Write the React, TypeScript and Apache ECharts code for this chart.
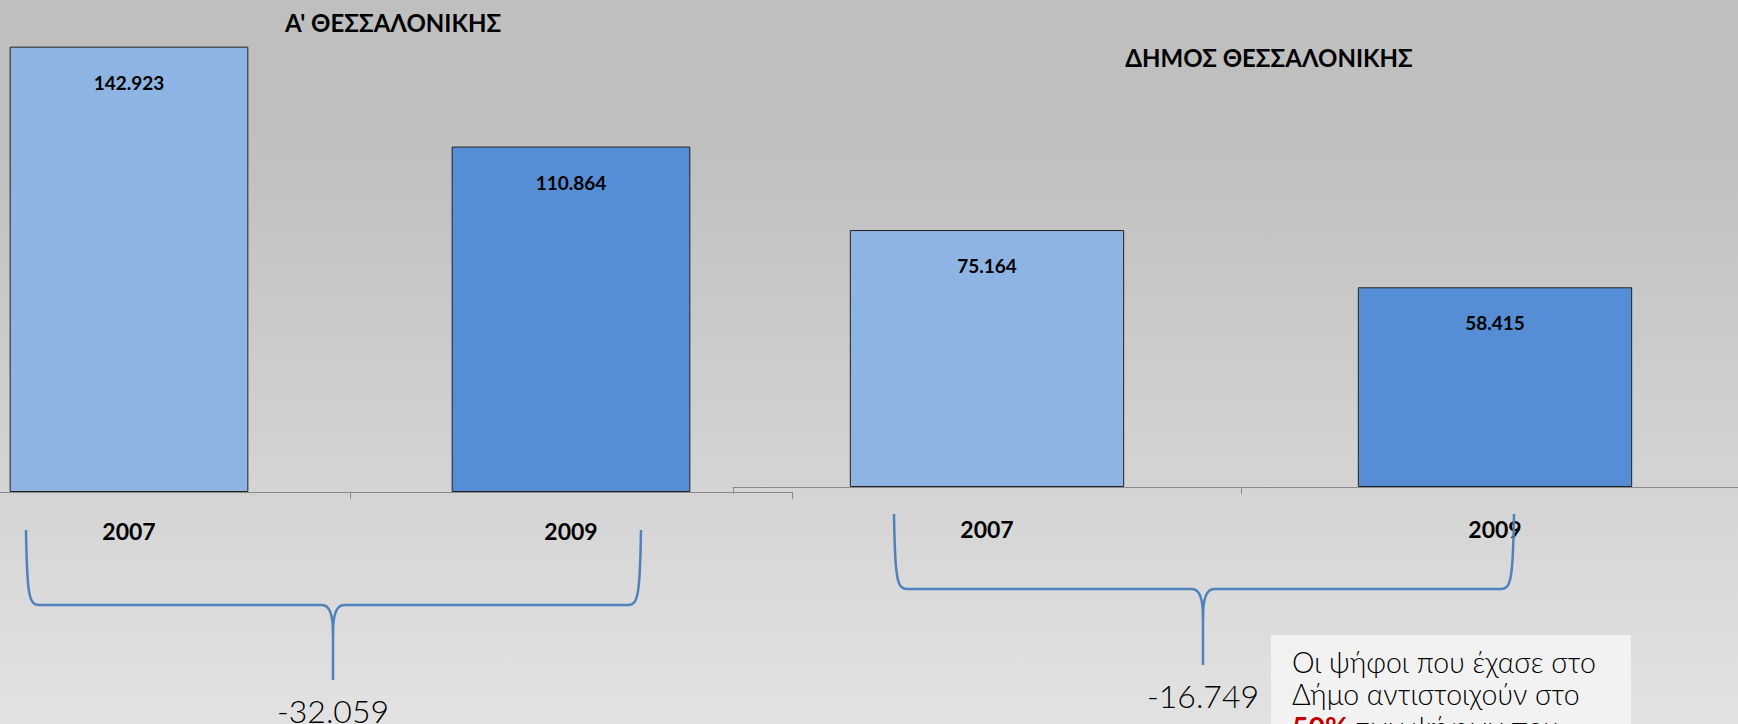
import React, { useEffect, useRef } from "react";
import * as echarts from "echarts";

const categories = ["2007", "2009"];
const thessA = [142923, 110864];
const dimos = [75164, 58415];
const titles = ["Α' ΘΕΣΣΑΛΟΝΙΚΗΣ", "ΔΗΜΟΣ ΘΕΣΣΑΛΟΝΙΚΗΣ"];
const barColors = ["#8eb4e3", "#558ed5"];
const noteLines = ["Οι ψήφοι που έχασε στο", "Δήμο αντιστοιχούν στο"];
const notePct = "50%";
const noteRest = " των ψήφων που";

const fmt = (n: number) => {
  const s = String(Math.abs(n)).replace(/\B(?=(\d{3})+(?!\d))/g, ".");
  return (n < 0 ? "-" : "") + s;
};

const FONT = "Lato, 'DejaVu Sans', sans-serif";
const BRACE = { stroke: "#4f81bd", lineWidth: 2.5, fill: null as any };
// the chart canvas starts OX px left of the page so the left chart's plot can extend past the edge
const OX = 92;
const CW = 1738 + OX + 11;

function brace(x0: number, x1: number, xc: number, top: number, hy: number, tip: number) {
  x0 += OX; x1 += OX; xc += OX;
  const els: any[] = [];
  const bz = (a: number[]) => ({
    type: "bezierCurve",
    shape: { x1: a[0], y1: a[1], cpx1: a[2], cpy1: a[3], cpx2: a[4], cpy2: a[5], x2: a[6], y2: a[7] },
    style: BRACE,
    z: 10,
  });
  const ln = (a: number[]) => ({
    type: "line",
    shape: { x1: a[0], y1: a[1], x2: a[2], y2: a[3] },
    style: BRACE,
    z: 10,
  });
  els.push(bz([x0, top, x0 + 1, hy - 10, x0 + 3, hy, x0 + 13, hy]));
  els.push(ln([x0 + 13, hy, xc - 11, hy]));
  els.push(bz([xc - 11, hy, xc - 3, hy, xc, hy + 10, xc, hy + 28]));
  els.push(ln([xc, hy + 28, xc, tip]));
  els.push(bz([xc + 11, hy, xc + 3, hy, xc, hy + 10, xc, hy + 28]));
  els.push(ln([xc + 11, hy, x1 - 13, hy]));
  els.push(bz([x1, top, x1 - 1, hy - 10, x1 - 3, hy, x1 - 13, hy]));
  return els;
}

export default function App() {
  const ref = useRef<HTMLDivElement>(null);
  useEffect(() => {
    if (!ref.current) return;
    const chart = echarts.init(ref.current, null, { renderer: "svg" });
    const axisCommon = (gi: number, margin: number) => ({
      gridIndex: gi,
      type: "category",
      data: categories,
      axisLine: { lineStyle: { color: "#8a8a8a", width: 1 } },
      axisTick: { show: true, length: 7, lineStyle: { color: "#8a8a8a" } },
      axisLabel: {
        margin,
        fontFamily: FONT,
        fontWeight: "bold",
        fontSize: 23,
        lineHeight: 23,
        color: "#000",
      },
    });
    const barSeries = (idx: number, vals: number[]) => ({
      type: "bar",
      xAxisIndex: idx,
      yAxisIndex: idx,
      barWidth: "54%",
      data: vals.map((v, i) => ({ value: v, itemStyle: { color: barColors[i] } })),
      itemStyle: { borderColor: "#222", borderWidth: 1 },
      label: {
        show: true,
        position: "insideTop",
        distance: 26,
        formatter: (p: any) => fmt(p.value),
        fontFamily: FONT,
        fontWeight: "bold",
        fontSize: 19,
        lineHeight: 19,
        color: "#000",
      },
    });
    const d1 = thessA[1] - thessA[0];
    const d2 = dimos[1] - dimos[0];
    const txt = (x: number, y: number, text: string, size: number, weight: any, extra: any = {}) => ({
      type: "text",
      x: x + OX,
      y,
      z: 6,
      style: { text, fontFamily: FONT, fontWeight: weight, fontSize: size, fill: "#000", align: "center", verticalAlign: "middle", ...extra },
    });
    const option: any = {
      animation: false,
      backgroundColor: {
        type: "linear",
        x: 0,
        y: 0,
        x2: 0,
        y2: 1,
        colorStops: [
          { offset: 0, color: "#bfbfbf" },
          { offset: 0.22, color: "#c0c0c0" },
          { offset: 1, color: "#e2e2e2" },
        ],
      },
      grid: [
        { left: 0, top: 24.6, width: 884, height: 467.4 },
        { left: 733 + OX, top: 213.5, width: 1016, height: 273.5 },
      ],
      xAxis: [axisCommon(0, 27), axisCommon(1, 30)],
      yAxis: [
        { gridIndex: 0, type: "value", min: 0, max: 150000, show: false },
        { gridIndex: 1, type: "value", min: 0, max: 80000, show: false },
      ],
      series: [barSeries(0, thessA), barSeries(1, dimos)],
      graphic: [
        txt(393, 22.5, titles[0], 24, "bold"),
        txt(1269, 57.5, titles[1], 24, "bold"),
        ...brace(26, 641, 333, 530, 605, 680),
        ...brace(894, 1514, 1203, 514, 589, 665),
        txt(333, 710, fmt(d1), 32, 300),
        txt(1203, 695, fmt(d2), 32, 300),
        {
          type: "rect",
          shape: { x: 1271 + OX, y: 635, width: 360, height: 120 },
          style: { fill: "#f2f2f2" },
          z: 5,
        },
        txt(1292, 662, noteLines[0], 28.5, 300, { align: "left" }),
        txt(1292, 694, noteLines[1], 28.5, 300, { align: "left" }),
        {
          type: "text",
          x: 1292 + OX,
          y: 727,
          z: 6,
          style: {
            text: "{a|" + notePct + "}{b|" + noteRest + "}",
            align: "left",
            verticalAlign: "middle",
            rich: {
              a: { fontFamily: FONT, fontWeight: "bold", fontSize: 28.5, fill: "#c00000", color: "#c00000" },
              b: { fontFamily: FONT, fontWeight: 300, fontSize: 28.5, fill: "#000", color: "#000" },
            },
          },
        },
      ],
    };
    chart.setOption(option);
    return () => chart.dispose();
  }, []);
  return (
    <div style={{ position: "absolute", left: 0, top: 0, width: 1738, height: 724, overflow: "hidden" }}>
      <div
        ref={ref}
        style={{ position: "absolute", left: -OX, top: 0, width: CW, height: 724 }}
      />
    </div>
  );
}
